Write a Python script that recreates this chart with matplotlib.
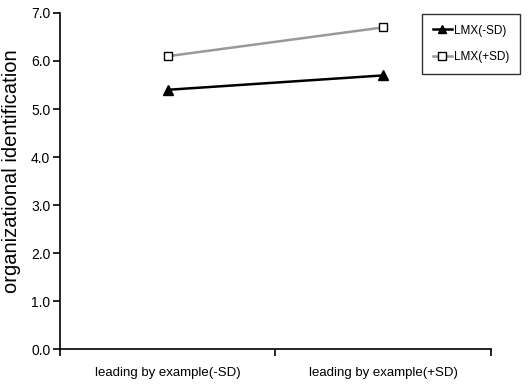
import matplotlib
matplotlib.use("Agg")
import matplotlib.pyplot as plt

categories = ["leading by example(-SD)", "leading by example(+SD)"]
lmx_low = [5.4, 5.7]
lmx_high = [6.1, 6.7]
yticks = [0.0, 1.0, 2.0, 3.0, 4.0, 5.0, 6.0, 7.0]

plt.rcParams["font.family"] = ["Liberation Sans", "DejaVu Sans"]

fig = plt.figure(figsize=(5.29, 3.88), dpi=100)
ax = fig.add_axes([0.1134, 0.1005, 0.8146, 0.866])

xpos = [0.5, 1.5]
ax.plot(xpos, lmx_low, color="black", lw=1.8, marker="^", ms=7,
        mfc="black", mec="black", label="LMX(-SD)")
ax.plot(xpos, lmx_high, color="#999999", lw=1.8, marker="s", ms=6,
        mfc="white", mec="black", mew=1.0, label="LMX(+SD)")

ax.set_xlim(0, 2)
ax.set_ylim(0, 7)
ax.set_xticks([0, 1, 2])
ax.set_xticklabels([])
ax.set_xticks(xpos, minor=True)
ax.set_xticklabels(categories, minor=True, fontsize=9.5)
ax.tick_params(axis="x", which="minor", length=0, pad=13)
ax.tick_params(axis="x", which="major", length=5, width=1.2, direction="out")
ax.set_yticks(yticks)
ax.set_yticklabels([f"{v:.1f}" for v in yticks], fontsize=10)
ax.tick_params(axis="y", length=5, width=1.2, direction="out", pad=2)

for s in ["top", "right"]:
    ax.spines[s].set_visible(False)
for s in ["left", "bottom"]:
    ax.spines[s].set_linewidth(1.2)

ax.set_ylabel("organizational identification", fontsize=14.5)
ax.yaxis.set_label_coords(-0.09, 0.53)

leg = ax.legend(loc="upper left", bbox_to_anchor=(422 / 529, 1 - 14 / 388),
                bbox_transform=fig.transFigure, frameon=True, fancybox=False,
                prop={"size": 8.5}, handlelength=1.6,
                markerscale=0.85, handletextpad=0.2, borderpad=0.9,
                labelspacing=1.25, borderaxespad=0)
leg.get_frame().set_edgecolor("black")
leg.get_frame().set_linewidth(1.0)

fig.savefig("out.png", dpi=100)
